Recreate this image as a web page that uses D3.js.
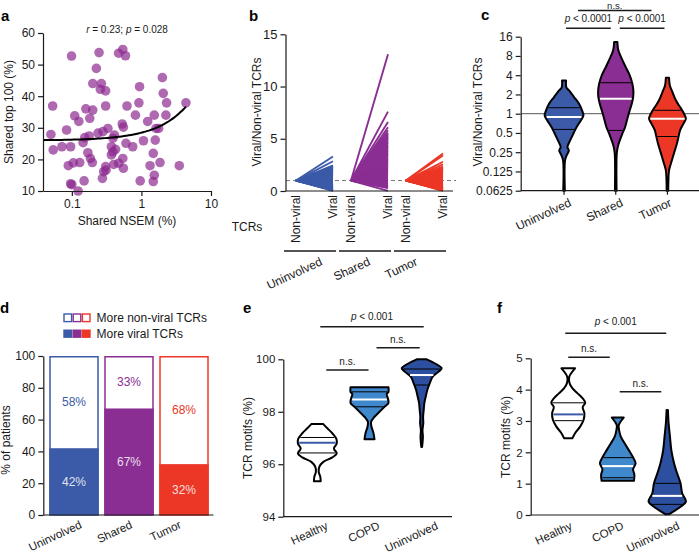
<!DOCTYPE html>
<html>
<head>
<meta charset="utf-8">
<script src="https://cdn.jsdelivr.net/npm/d3@7"></script>
<style>
  body { margin: 0; background: #fff; }
  svg { display: block; font-family: "Liberation Sans", Arial, Helvetica, sans-serif; }
</style>
</head>
<body>
<svg id="fig" width="699" height="554"></svg>
<script>
// ---------- data ----------
// a: shared NSEM (%) vs shared top 100 (%)
const nsemShared = [0.05, 0.054, 0.053, 0.072, 0.084, 0.096, 0.099, 0.089, 0.096, 0.1, 0.123, 0.13,
  0.11, 0.126, 0.105, 0.15, 0.145, 0.153, 0.159, 0.181, 0.2, 0.17, 0.185, 0.197, 0.177, 0.2, 0.225,
  0.246, 0.266, 0.257, 0.306, 0.238, 0.28, 0.33, 0.306, 0.275, 0.287, 0.31, 0.306, 0.37, 0.39, 0.425,
  0.41, 0.39, 0.37, 0.4, 0.47, 0.54, 0.59, 0.53, 0.55, 0.54, 0.55, 0.47, 0.62, 0.6, 0.75, 0.82, 0.94,
  0.92, 0.96, 1.07, 1.23, 1.33, 1.48, 1.53, 1.48, 1.53, 1.58, 1.62, 1.77, 2.0, 2.06, 2.25, 2.3, 1.85,
  3.5, 4.36];
const top100Shared = [27.9, 23, 36.9, 24, 29.3, 24, 52.7, 18, 12.3, 12, 10, 19,
  33.8, 32, 18.9, 13.2, 25.3, 26.9, 36, 33, 35.6, 22.1, 20.3, 19, 27.4, 44, 48.8,
  53.8, 44, 42.2, 41.7, 28.3, 28.8, 29.8, 36.9, 14, 16.1, 16.6, 17.7, 21.4, 22.4, 23.2,
  27.7, 26.7, 24, 18.4, 53.6, 54.8, 52.8, 31.2, 30.2, 20.3, 17.2, 18.8, 36.9, 25.1, 24, 34, 43,
  37.9, 13.2, 25.9, 32, 18, 13, 15, 21.9, 34, 26.1, 29.8, 29.8, 45.9, 40.9, 34, 37.9, 19,
  18, 37.9];
const fitIntercept = 26.0;
const fitSlope = 2.45;
const fitMaxX = 4.36;

// b/c: viral / non-viral TCR ratio per patient
const groups = ['Uninvolved', 'Shared', 'Tumor'];
const tcrTypes = ['Non-viral', 'Viral'];
const ratioUninvolved = [0.02, 0.06, 0.1, 0.14, 0.18, 0.22, 0.26, 0.3, 0.34, 0.38, 0.42, 0.46, 0.5,
  0.54, 0.58, 0.62, 0.66, 0.7, 0.74, 0.78, 0.82, 0.86, 0.9, 0.94, 0.98, 1.02, 1.07, 1.12, 1.17,
  1.22, 1.28, 1.34, 1.4, 1.46, 1.52, 1.58, 1.64, 1.7, 1.77, 1.84, 1.91, 1.98, 2.05, 2.12, 2.2,
  2.28, 2.35, 2.45, 2.85, 3.3];
const ratioShared = [0.02, 0.28, 0.34, 0.4, 0.46, 0.52, 0.58, 0.64, 0.7, 0.76, 0.82, 0.88, 0.94, 1.0,
  1.07, 1.14, 1.21, 1.28, 1.35, 1.42, 1.5, 1.58, 1.66, 1.74, 1.82, 1.9, 1.98, 2.07, 2.16, 2.25,
  2.34, 2.43, 2.52, 2.62, 2.72, 2.82, 2.92, 3.02, 3.12, 3.22, 3.33, 3.44, 3.55, 3.66, 3.77, 3.88,
  4.0, 4.12, 4.24, 4.36, 4.48, 4.6, 4.72, 4.84, 4.96, 5.08, 5.2, 5.32, 5.44, 5.56, 5.8, 6.1, 6.6,
  7.6, 13.1];
const ratioTumor = [0.02, 0.06, 0.1, 0.14, 0.18, 0.22, 0.26, 0.3, 0.34, 0.38, 0.42, 0.46, 0.5, 0.54,
  0.58, 0.62, 0.66, 0.7, 0.74, 0.78, 0.82, 0.86, 0.9, 0.94, 0.98, 1.03, 1.08, 1.13, 1.18, 1.24,
  1.3, 1.36, 1.42, 1.48, 1.55, 1.62, 1.69, 1.76, 1.83, 1.9, 1.97, 2.04, 2.11, 2.18, 2.25, 2.32,
  2.55, 2.8, 3.4, 3.6];

// c: violin outlines [ratio, relative half width], top to bottom
const violinRatioUninvolved = [[3.32, 0.1], [2.55, 0.12], [2.31, 0.25], [1.82, 0.5], [1.43, 0.75],
  [1.13, 0.9], [0.94, 0.97], [0.785, 0.84], [0.62, 0.63], [0.49, 0.47], [0.38, 0.3], [0.3, 0.17],
  [0.267, 0.24], [0.223, 0.13], [0.186, 0.05], [0.0625, 0.04]];
const violinRatioShared = [[13.2, 0.08], [9.8, 0.13], [7.25, 0.3], [5.35, 0.5], [3.97, 0.7],
  [2.94, 0.83], [2.31, 0.88], [1.82, 0.87], [1.43, 0.8], [1.13, 0.7], [0.835, 0.58], [0.62, 0.47],
  [0.49, 0.33], [0.38, 0.2], [0.3, 0.1], [0.237, 0.05], [0.0625, 0.04]];
const violinRatioTumor = [[3.66, 0.08], [2.77, 0.12], [2.18, 0.25], [1.62, 0.42], [1.27, 0.63],
  [1.0, 0.83], [0.835, 0.92], [0.7, 0.8], [0.548, 0.63], [0.43, 0.55], [0.34, 0.47], [0.267, 0.37],
  [0.21, 0.27], [0.165, 0.17], [0.13, 0.08], [0.0625, 0.04]];
// [Q1, median, Q3]
const quartilesRatio = [[0.568, 0.885, 1.24], [0.548, 1.71, 3.05], [0.44, 0.835, 1.13]];
const sigRatio = [['Uninvolved', 'Shared', 'p < 0.0001'], ['Shared', 'Tumor', 'p < 0.0001'],
  ['Uninvolved', 'Tumor', 'n.s.']];

// d: % of patients
const pctMoreViral = [42, 67, 32];
const pctMoreNonViral = [58, 33, 68];
const legendLabels = ['More non-viral TCRs', 'More viral TCRs'];

// e/f: TCR motifs (%)
const cohorts = ['Healthy', 'COPD', 'Uninvolved'];
const violinMotifHealthyE = [[97.53, 0.3], [97.37, 0.5], [97.18, 0.75], [96.98, 0.95], [96.79, 0.97],
  [96.6, 0.83], [96.41, 0.97], [96.26, 0.75], [96.09, 0.3], [95.9, 0.1], [95.71, 0.07],
  [95.52, 0.15], [95.35, 0.17]];
const violinMotifCopdE = [[98.93, 0.95], [98.76, 0.95], [98.68, 0.86], [98.51, 0.92], [98.34, 0.95],
  [98.19, 0.75], [98.0, 0.5], [97.81, 0.25], [97.62, 0.08], [97.43, 0.1], [97.18, 0.2], [96.95, 0.25]];
const violinMotifUninvolvedE = [[100.0, 0.25], [99.85, 0.65], [99.66, 1.0], [99.53, 0.85],
  [99.34, 0.55], [99.08, 0.4], [98.83, 0.28], [98.57, 0.2], [98.32, 0.13], [98.06, 0.1],
  [97.81, 0.07], [97.56, 0.08], [97.3, 0.04], [97.05, 0.06], [96.66, 0.02]];
const quartilesMotifE = [[96.43, 96.82, 97.02], [98.19, 98.47, 98.76], [99.02, 99.4, 99.63]];
const sigMotifE = [['Healthy', 'COPD', 'n.s.'], ['COPD', 'Uninvolved', 'n.s.'],
  ['Healthy', 'Uninvolved', 'p < 0.001']];

const violinMotifHealthyF = [[4.68, 0.4], [4.41, 0.06], [4.2, 0.08], [4.04, 0.25], [3.88, 0.55],
  [3.72, 0.85], [3.58, 1.0], [3.44, 0.85], [3.25, 0.95], [3.03, 0.9], [2.82, 0.7], [2.61, 0.4],
  [2.45, 0.25]];
const violinMotifCopdF = [[3.11, 0.35], [2.87, 0.06], [2.71, 0.08], [2.5, 0.18], [2.29, 0.4],
  [2.07, 0.65], [1.86, 0.88], [1.65, 1.05], [1.46, 0.9], [1.28, 0.98], [1.09, 0.95]];
const violinMotifUninvolvedF = [[3.35, 0.04], [2.93, 0.08], [2.5, 0.16], [2.07, 0.24], [1.65, 0.4],
  [1.33, 0.58], [1.01, 0.78], [0.69, 0.88], [0.43, 1.1], [0.27, 0.8], [0.11, 0.35], [0.02, 0.1]];
const quartilesMotifF = [[3.01, 3.21, 3.58], [1.19, 1.56, 1.83], [0.34, 0.61, 1.01]];
const sigMotifF = [['Healthy', 'COPD', 'n.s.'], ['COPD', 'Uninvolved', 'n.s.'],
  ['Healthy', 'Uninvolved', 'p < 0.001']];

// ---------- styles ----------
const groupColors = ['#3b5ba8', '#8b2e93', '#ec3726'];
const cohortFills = ['#ffffff', '#3f88cc', '#2d4f9f'];
const cohortMedian = ['#3b5ba8', '#ffffff', '#ffffff'];
const INK = '#1a1a1a';
const SLANT = -25;

const svg = d3.select('#fig');

function styleAxis(g, size = 12) {
  g.selectAll('path.domain').attr('stroke', INK).attr('stroke-width', 1.2);
  g.selectAll('.tick line').attr('stroke', INK).attr('stroke-width', 1.2);
  g.selectAll('.tick text').attr('fill', INK).attr('font-size', size).attr('font-family', null);
}

function letter(t, x, y) {
  svg.append('text').attr('x', x).attr('y', y).text(t)
    .attr('font-size', 15).attr('font-weight', 'bold').attr('fill', '#000');
}

function yTitle(t, x, y, size = 12) {
  svg.append('text').attr('transform', `translate(${x},${y}) rotate(-90)`)
    .attr('text-anchor', 'middle').attr('font-size', size).attr('fill', INK).text(t);
}

function slanted(t, x, y, size = 12) {
  svg.append('text').attr('transform', `translate(${x},${y}) rotate(${SLANT})`)
    .attr('text-anchor', 'end').attr('font-size', size).attr('fill', INK).text(t);
}

// label with italic leading letter (p / r)
function statText(sel, label) {
  const m = label.match(/^([pr])( .*)$/);
  if (m) {
    sel.append('tspan').attr('font-style', 'italic').text(m[1]);
    sel.append('tspan').text(m[2]);
  } else sel.text(label);
}

function bracket(x1, x2, y, label, textGap, size = 10) {
  svg.append('line').attr('x1', x1).attr('x2', x2).attr('y1', y).attr('y2', y)
    .attr('stroke', INK).attr('stroke-width', 1.5);
  const t = svg.append('text').attr('x', (x1 + x2) / 2).attr('y', y - textGap)
    .attr('text-anchor', 'middle').attr('font-size', size).attr('fill', INK);
  statText(t, label);
}

function widthAt(profile, y, v) {
  const py = y(v);
  for (let i = 0; i < profile.length - 1; i++) {
    const a = y(profile[i][0]), b = y(profile[i + 1][0]);
    if ((py - a) * (py - b) <= 0) {
      const t = (py - a) / ((b - a) || 1);
      return profile[i][1] + t * (profile[i + 1][1] - profile[i][1]);
    }
  }
  return 0;
}

function drawViolin(profile, quart, cx, y, W, fill, medColor) {
  const area = d3.area()
    .y(d => y(d[0]))
    .x0(d => cx - d[1] * W)
    .x1(d => cx + d[1] * W)
    .curve(d3.curveCatmullRom.alpha(0.5));
  svg.append('path').attr('d', area(profile))
    .attr('fill', fill).attr('stroke', '#000').attr('stroke-width', 2)
    .attr('stroke-linejoin', 'round');
  quart.forEach((q, k) => {
    const hw = Math.max(0, widthAt(profile, y, q) * W - 1.2);
    svg.append('line')
      .attr('x1', cx - hw).attr('x2', cx + hw).attr('y1', y(q)).attr('y2', y(q))
      .attr('stroke', k === 1 ? medColor : '#000')
      .attr('stroke-width', k === 1 ? 2 : 1);
  });
}

// ---------- panel a ----------
{
  const x = d3.scaleLog().domain([0.0385, 10]).range([43, 211]);
  const y = d3.scaleLinear().domain([10, 60]).range([191, 33]);
  const pts = nsemShared.map((v, i) => [v, top100Shared[i]]);

  svg.append('g').selectAll('circle').data(pts).join('circle')
    .attr('cx', d => x(d[0])).attr('cy', d => y(d[1])).attr('r', 4.8)
    .attr('fill', '#8b2a8e').attr('fill-opacity', 0.7);

  const fit = d3.range(0, 61).map(i => {
    const xv = Math.exp(Math.log(0.0385) + i / 60 * (Math.log(fitMaxX) - Math.log(0.0385)));
    return [xv, fitIntercept + fitSlope * xv];
  });
  svg.append('path').attr('d', d3.line().x(d => x(d[0])).y(d => y(d[1])).curve(d3.curveBasis)(fit))
    .attr('fill', 'none').attr('stroke', '#000').attr('stroke-width', 2);

  const ga = svg.append('g').attr('transform', 'translate(43,0)')
    .call(d3.axisLeft(y).tickValues([10, 20, 30, 40, 50, 60]).tickSize(5).tickSizeOuter(0));
  styleAxis(ga);
  const gx = svg.append('g').attr('transform', 'translate(0,191)')
    .call(d3.axisBottom(x).tickValues([0.1, 1, 10]).tickFormat(d3.format('')).tickSize(5).tickSizeOuter(0));
  styleAxis(gx);

  yTitle('Shared top 100 (%)', 13, 112);
  svg.append('text').attr('x', 127).attr('y', 225).attr('text-anchor', 'middle')
    .attr('font-size', 12).attr('fill', INK).text('Shared NSEM (%)');
  const ann = svg.append('text').attr('x', 127).attr('y', 33).attr('text-anchor', 'middle')
    .attr('font-size', 10).attr('fill', INK);
  ann.append('tspan').attr('font-style', 'italic').text('r');
  ann.append('tspan').text(' = 0.23; ');
  ann.append('tspan').attr('font-style', 'italic').text('p');
  ann.append('tspan').text(' = 0.028');
  letter('a', 1, 21);
}

// ---------- panel b ----------
{
  const xg = d3.scaleBand().domain(groups).range([287, 452]);
  const xt = d3.scalePoint().domain(tcrTypes).range([9, 46]);
  const y = d3.scaleLinear().domain([0, 15]).range([191, 34.3]);
  const sets = [ratioUninvolved, ratioShared, ratioTumor];
  const labelShift = [13, 6, -1.5];

  svg.append('line').attr('x1', 286).attr('x2', 456).attr('y1', y(1)).attr('y2', y(1))
    .attr('stroke', '#777').attr('stroke-width', 1).attr('stroke-dasharray', '4,3');

  groups.forEach((g, i) => {
    const x0 = xg(g) + xt('Non-viral'), x1 = xg(g) + xt('Viral');
    svg.append('g').selectAll('line').data(sets[i]).join('line')
      .attr('x1', x0).attr('y1', y(1)).attr('x2', x1).attr('y2', d => y(d))
      .attr('stroke', groupColors[i]).attr('stroke-width', 1.9);
    tcrTypes.forEach(t => {
      svg.append('text').attr('transform', `translate(${xg(g) + xt(t) + 4},195) rotate(-90)`)
        .attr('text-anchor', 'end').attr('font-size', 12).attr('fill', INK).text(t);
    });
    const bx0 = xg(g) - 3, bx1 = xg(g) + xg.bandwidth() - 6;
    svg.append('line').attr('x1', bx0).attr('x2', bx1)
      .attr('y1', 251).attr('y2', 251).attr('stroke', INK).attr('stroke-width', 1.5);
    slanted(g, (bx0 + bx1) / 2 + labelShift[i], 264.5);
  });

  const gy = svg.append('g').attr('transform', 'translate(285.5,0)')
    .call(d3.axisLeft(y).tickValues([0, 5, 10, 15]).tickSize(5).tickSizeOuter(0));
  styleAxis(gy, 13);
  svg.append('line').attr('x1', 285.5).attr('x2', 453).attr('y1', 191).attr('y2', 191)
    .attr('stroke', INK).attr('stroke-width', 1.2);

  svg.append('text').attr('x', 247).attr('y', 231).attr('text-anchor', 'middle')
    .attr('font-size', 12).attr('fill', INK).text('TCRs');
  yTitle('Viral/Non-viral TCRs', 261, 112);
  letter('b', 249, 21);
}

// ---------- panel c ----------
{
  const x = d3.scaleBand().domain(groups).range([538.2, 693.3]);
  const y = d3.scaleLog().base(2).domain([0.0625, 16]).range([190.7, 36.7]);
  const profiles = [violinRatioUninvolved, violinRatioShared, violinRatioTumor];
  const cx = g => x(g) + x.bandwidth() / 2;

  svg.append('line').attr('x1', 521).attr('x2', 699).attr('y1', y(1)).attr('y2', y(1))
    .attr('stroke', '#555').attr('stroke-width', 1);

  groups.forEach((g, i) => {
    drawViolin(profiles[i], quartilesRatio[i], cx(g), y, 20, groupColors[i], '#ffffff');
  });

  const gy = svg.append('g').attr('transform', 'translate(520.7,0)')
    .call(d3.axisLeft(y).tickValues([0.0625, 0.125, 0.25, 0.5, 1, 2, 4, 8, 16])
      .tickFormat(d => String(d)).tickSize(5).tickSizeOuter(0));
  styleAxis(gy);
  const gx = svg.append('g').attr('transform', 'translate(0,190.7)')
    .call(d3.axisBottom(x).tickSize(4).tickSizeOuter(0).tickFormat(''));
  styleAxis(gx);
  gx.select('path.domain').attr('d', 'M520.7,0H699');
  [8, 8, 5].forEach((o, i) => slanted(groups[i], cx(groups[i]) + o, 205.5));

  const levels = [28.3, 28.3, 10.5];
  const insets = [[2, -5], [4, -3], [14, -16]];
  sigRatio.forEach((s, k) => {
    bracket(cx(s[0]) + insets[k][0], cx(s[1]) + insets[k][1], levels[k], s[2],
      k === 2 ? 1.6 : 6, k === 2 ? 9.5 : 10);
  });
  yTitle('Viral/Non-viral TCRs', 482, 112);
  letter('c', 481, 20);
}

// ---------- panel d ----------
{
  const x = d3.scaleBand().domain(groups).range([46.5, 211.5]).paddingInner(0.1).paddingOuter(0.05);
  const y = d3.scaleLinear().domain([0, 100]).range([515, 356]);

  groups.forEach((g, i) => {
    const bx = x(g), bw = x.bandwidth();
    svg.append('rect').attr('x', bx + 0.75).attr('y', y(100) + 0.75)
      .attr('width', bw - 1.5).attr('height', y(0) - y(100) - 0.75)
      .attr('fill', '#fff').attr('stroke', groupColors[i]).attr('stroke-width', 1.5);
    svg.append('rect').attr('x', bx).attr('y', y(pctMoreViral[i]))
      .attr('width', bw).attr('height', y(0) - y(pctMoreViral[i]))
      .attr('fill', groupColors[i]);
    svg.append('text').attr('x', bx + bw / 2).attr('y', y(pctMoreViral[i] + pctMoreNonViral[i] / 2) + 4)
      .attr('text-anchor', 'middle').attr('font-size', 12).attr('fill', groupColors[i])
      .text(pctMoreNonViral[i] + '%');
    svg.append('text').attr('x', bx + bw / 2).attr('y', y(pctMoreViral[i] / 2) + 4)
      .attr('text-anchor', 'middle').attr('font-size', 12).attr('fill', '#fff')
      .attr('fill-opacity', 0.85).text(pctMoreViral[i] + '%');

    // legend swatches
    svg.append('rect').attr('x', 64 + i * 9.2).attr('y', 314).attr('width', 7.6).attr('height', 7.6)
      .attr('fill', '#fff').attr('stroke', groupColors[i]).attr('stroke-width', 1.4);
    svg.append('rect').attr('x', 63.3 + i * 9.2).attr('y', 329.5).attr('width', 9).attr('height', 8.4)
      .attr('fill', groupColors[i]);
  });
  [8.5, 4, -2].forEach((o, i) => slanted(groups[i], x(groups[i]) + x.bandwidth() / 2 + o, 527.5, 11.5));
  legendLabels.forEach((t, k) => {
    svg.append('text').attr('x', 96.5).attr('y', 321.5 + k * 16).attr('font-size', 12)
      .attr('fill', INK).text(t);
  });

  const gy = svg.append('g').attr('transform', 'translate(43.3,0)')
    .call(d3.axisLeft(y).tickValues([0, 20, 40, 60, 80, 100]).tickSize(5).tickSizeOuter(0));
  styleAxis(gy);
  svg.append('line').attr('x1', 43.3).attr('x2', 213.5).attr('y1', 515).attr('y2', 515)
    .attr('stroke', INK).attr('stroke-width', 1.2);
  yTitle('% of patients', 10, 440);
  letter('d', 0, 313);
}

// ---------- panel e ----------
{
  const x = d3.scaleBand().domain(cohorts).range([291.2, 447.8]);
  const y = d3.scaleLinear().domain([94, 100]).range([516.7, 359.3]);
  const profiles = [violinMotifHealthyE, violinMotifCopdE, violinMotifUninvolvedE];
  const cx = g => x(g) + x.bandwidth() / 2;

  cohorts.forEach((g, i) => {
    drawViolin(profiles[i], quartilesMotifE[i], cx(g), y, 20, cohortFills[i], cohortMedian[i]);
  });

  const gy = svg.append('g').attr('transform', 'translate(283.3,0)')
    .call(d3.axisLeft(y).tickValues([94, 96, 98, 100]).tickFormat(d3.format('d'))
      .tickSize(5).tickSizeOuter(0));
  styleAxis(gy, 11.5);
  svg.append('line').attr('x1', 283.3).attr('x2', 452).attr('y1', 516.7).attr('y2', 516.7)
    .attr('stroke', INK).attr('stroke-width', 1.2);
  [11.4, 11, 17].forEach((o, i) => slanted(cohorts[i], cx(cohorts[i]) + o, 528.5, 11.5));

  const levels = [370, 347.7, 326.7];
  const insets = [[9, -1], [7, -2], [3, 2]];
  sigMotifE.forEach((s, k) => {
    bracket(cx(s[0]) + insets[k][0], cx(s[1]) + insets[k][1], levels[k], s[2], k === 2 ? 7 : 5);
  });
  yTitle('TCR motifs (%)', 252, 438);
  letter('e', 243, 313);
}

// ---------- panel f ----------
{
  const x = d3.scaleBand().domain(cohorts).range([543.5, 692]);
  const y = d3.scaleLinear().domain([0, 5]).range([515, 358.3]);
  const profiles = [violinMotifHealthyF, violinMotifCopdF, violinMotifUninvolvedF];
  const cx = g => x(g) + x.bandwidth() / 2;

  cohorts.forEach((g, i) => {
    drawViolin(profiles[i], quartilesMotifF[i], cx(g), y, 17, cohortFills[i], cohortMedian[i]);
  });

  const gy = svg.append('g').attr('transform', 'translate(530.7,0)')
    .call(d3.axisLeft(y).tickValues([0, 1, 2, 3, 4, 5]).tickFormat(d3.format('d'))
      .tickSize(5).tickSizeOuter(0));
  styleAxis(gy, 11.5);
  svg.append('line').attr('x1', 530.7).attr('x2', 699).attr('y1', 515).attr('y2', 515)
    .attr('stroke', INK).attr('stroke-width', 1.2);
  [4.7, 6.7, 13].forEach((o, i) => slanted(cohorts[i], cx(cohorts[i]) + o, 528.5, 11.5));

  const levels = [357.3, 391.7, 333.3];
  const insets = [[0, -8], [2, -6], [-3, -1]];
  sigMotifF.forEach((s, k) => {
    bracket(cx(s[0]) + insets[k][0], cx(s[1]) + insets[k][1], levels[k], s[2], k === 2 ? 8 : 5);
  });
  yTitle('TCR motifs (%)', 510, 437);
  letter('f', 497, 313);
}
</script>
</body>
</html>
